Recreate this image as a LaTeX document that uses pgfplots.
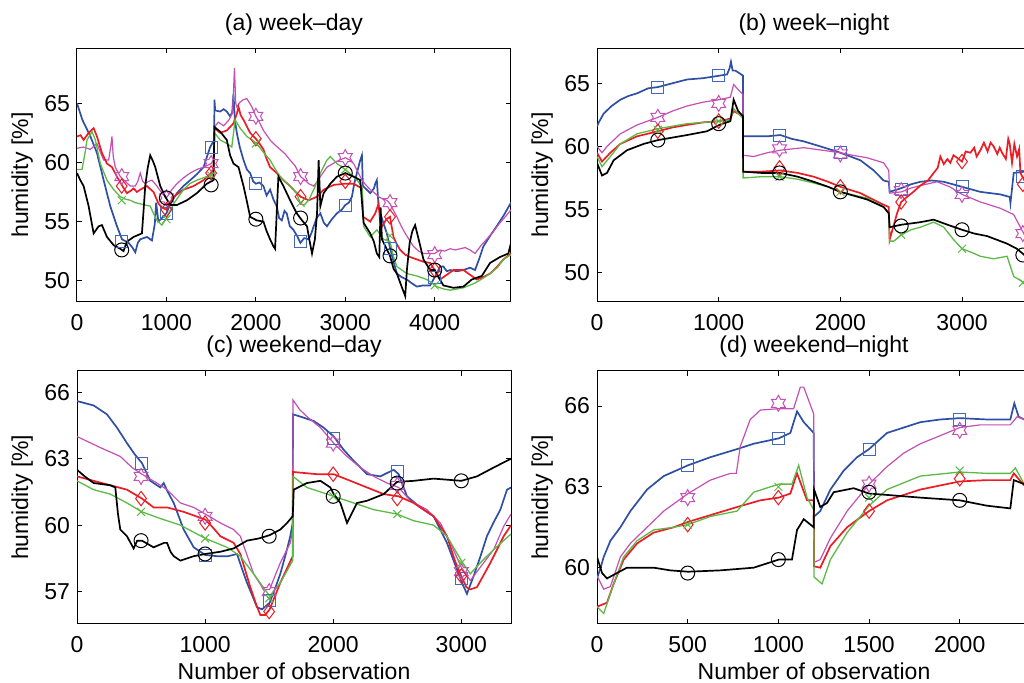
\documentclass[border=0pt]{standalone}
\usepackage{fontspec}
\setmainfont{Liberation Sans}
\usepackage{pgfplots}
\pgfplotsset{compat=1.18}

\definecolor{cB}{RGB}{46,79,163}
\definecolor{cBm}{RGB}{66,104,190}
\definecolor{cM}{RGB}{196,80,180}
\definecolor{cR}{RGB}{236,28,36}
\definecolor{cG}{RGB}{92,185,70}
\definecolor{cK}{RGB}{0,0,0}

\newcommand\lbl{\fontsize{11.5pt}{13pt}\selectfont}

% six-pointed star outline (MATLAB 'h')
\pgfdeclareplotmark{hexagram}{%
  \pgfpathmoveto{\pgfpointpolar{90}{\pgfplotmarksize}}%
  \pgfpathlineto{\pgfpointpolar{120}{0.577\pgfplotmarksize}}%
  \pgfpathlineto{\pgfpointpolar{150}{\pgfplotmarksize}}%
  \pgfpathlineto{\pgfpointpolar{180}{0.577\pgfplotmarksize}}%
  \pgfpathlineto{\pgfpointpolar{210}{\pgfplotmarksize}}%
  \pgfpathlineto{\pgfpointpolar{240}{0.577\pgfplotmarksize}}%
  \pgfpathlineto{\pgfpointpolar{270}{\pgfplotmarksize}}%
  \pgfpathlineto{\pgfpointpolar{300}{0.577\pgfplotmarksize}}%
  \pgfpathlineto{\pgfpointpolar{330}{\pgfplotmarksize}}%
  \pgfpathlineto{\pgfpointpolar{0}{0.577\pgfplotmarksize}}%
  \pgfpathlineto{\pgfpointpolar{30}{\pgfplotmarksize}}%
  \pgfpathlineto{\pgfpointpolar{60}{0.577\pgfplotmarksize}}%
  \pgfpathclose
  \pgfusepathqstroke
}

\pgfplotsset{
  panel/.style={
    scale only axis, width=217pt, anchor=south west,
    axis line style={line width=0.5pt},
    every tick/.style={black, line width=0.5pt}, major tick length=2.5pt,
    tick align=inside,
    tick label style={font=\lbl},
    /pgf/number format/assume math mode=true,
    /pgf/number format/1000 sep={},
    scaled ticks=false,
    xticklabel style={yshift=-2.5pt},
    ylabel={humidity [\%]},
    every axis y label/.style={at={(axis description cs:-0.1124,0.5)}, rotate=90, anchor=base, font=\lbl},
    every axis x label/.style={at={(axis description cs:0.5,0)}, anchor=base, yshift=-28pt, font=\lbl},
    every axis title/.style={at={(axis description cs:0.5,1)}, anchor=base, yshift=9pt, font=\lbl},
  },
  lB/.style={cB, line width=0.85pt},
  lM/.style={cM, line width=0.6pt},
  lR/.style={cR, line width=0.85pt},
  lG/.style={cG, line width=0.65pt},
  lK/.style={cK, line width=0.85pt},
  mB/.style={only marks, mark=square, mark size=3pt, mark options={draw=cBm, line width=0.5pt}},
  mM/.style={only marks, mark=hexagram, mark size=4pt, mark options={draw=cM, line width=0.5pt}},
  mR/.style={only marks, mark=diamond, mark size=3.6pt, mark options={draw=cR, line width=0.5pt}},
  mG/.style={only marks, mark=x, mark size=2.8pt, mark options={draw=cG, line width=0.5pt}},
  mK/.style={only marks, mark=o, mark size=3.5pt, mark options={draw=cK, line width=0.5pt}},
}

\begin{document}
\begin{tikzpicture}
\path[use as bounding box] (0,0) rectangle (512pt,341.5pt);
\clip (0,0) rectangle (512pt,341.5pt);

% ---------------- (a) week-day ----------------
\begin{axis}[panel, at={(38.5pt,190.5pt)}, height=126.85pt,
  xmin=0, xmax=4853, ymin=48.2, ymax=69.65,
  xtick={0,1000,2000,3000,4000}, ytick={50,55,60,65},
  title={(a) week–day}]
\addplot[lB] coordinates {(0,65.0)(60,63.6)(150,62.2)(223,60.8)(298,58.5)(372,56.3)(447,54.6)(503,53.5)(577,53.2)(620,52.8)(652,52.4)(680,53.2)(707,53.5)(782,53.7)(838,53.4)(870,54.8)(885,56.6)(910,55.0)(950,55.3)(1000,55.7)(1050,56.6)(1117,57.4)(1190,58.0)(1266,58.5)(1340,59.0)(1415,59.6)(1489,61.3)(1534,61.9)(1537,65.3)(1545,64.4)(1600,64.3)(1640,64.5)(1675,64.3)(1712,63.9)(1735,64.2)(1750,65.8)(1765,63.6)(1787,62.5)(1820,61.3)(1862,60.2)(1900,59.4)(1936,59.1)(1970,58.4)(2000,58.2)(2040,58.3)(2085,58.0)(2120,57.2)(2159,57.7)(2200,56.8)(2234,56.3)(2260,55.3)(2290,55.1)(2320,55.9)(2345,55.7)(2380,54.6)(2420,54.3)(2460,53.8)(2498,53.2)(2540,53.6)(2591,53.5)(2620,54.0)(2647,54.6)(2680,55.3)(2721,55.7)(2760,54.9)(2795,54.6)(2850,55.2)(2907,55.7)(2960,56.0)(3000,56.4)(3040,56.6)(3074,57.1)(3100,58.2)(3130,59.1)(3160,60.0)(3186,60.6)(3197,58.0)(3240,57.7)(3279,57.4)(3320,57.8)(3335,58.2)(3353,58.5)(3372,56.3)(3420,55.0)(3465,54.0)(3500,52.8)(3540,51.6)(3577,50.6)(3630,50.3)(3688,50.1)(3740,49.8)(3800,49.5)(3870,49.6)(3949,49.6)(4000,50.3)(4023,50.6)(4060,51.2)(4097,51.2)(4135,50.8)(4172,50.9)(4250,50.8)(4321,50.9)(4395,51.1)(4451,50.9)(4500,51.9)(4544,52.9)(4620,53.8)(4693,54.6)(4770,55.5)(4853,56.6)};
\addplot[lM] coordinates {(0,61.2)(74,61.3)(149,61.1)(223,61.6)(260,60.9)(298,60.2)(354,60.2)(380,61.5)(391,62.2)(405,60.5)(428,59.6)(484,58.8)(540,58.4)(596,58.0)(652,58.0)(680,58.4)(707,59.1)(735,58.4)(763,58.2)(800,58.4)(838,58.5)(894,58.0)(950,57.4)(1000,57.0)(1060,57.7)(1117,58.2)(1190,58.7)(1266,59.1)(1340,59.4)(1415,59.6)(1500,59.9)(1526,60.2)(1537,63.0)(1580,63.4)(1640,63.1)(1700,63.6)(1740,64.2)(1761,68.0)(1775,65.0)(1787,64.7)(1824,65.1)(1860,65.3)(1899,65.4)(1955,64.7)(2000,63.9)(2040,63.4)(2085,62.7)(2159,61.9)(2210,61.5)(2271,61.1)(2330,60.7)(2383,60.2)(2440,59.7)(2500,58.8)(2550,58.5)(2591,58.2)(2647,58.0)(2690,58.4)(2721,58.8)(2795,59.6)(2907,60.1)(3000,60.4)(3050,60.2)(3093,59.9)(3140,59.2)(3186,58.5)(3230,58.1)(3279,57.7)(3330,57.4)(3372,57.1)(3420,56.9)(3465,56.8)(3500,56.5)(3577,55.4)(3620,54.7)(3670,54.0)(3720,53.4)(3763,52.9)(3820,52.5)(3874,52.3)(3950,52.3)(4000,52.3)(4060,52.6)(4110,52.5)(4172,52.7)(4230,52.6)(4284,52.7)(4340,52.8)(4395,52.6)(4451,52.3)(4520,53.0)(4581,53.5)(4660,54.2)(4730,54.9)(4800,55.5)(4853,56.0)};
\addplot[lR] coordinates {(0,62.2)(40,62.3)(74,61.9)(130,62.5)(186,62.9)(223,62.2)(279,60.8)(335,59.9)(391,59.6)(447,58.8)(500,58.1)(558,57.4)(600,57.6)(633,57.8)(670,57.5)(707,57.7)(782,58.0)(856,57.5)(912,56.5)(950,56.2)(1000,56.0)(1040,56.6)(1080,57.1)(1191,57.7)(1303,58.0)(1415,58.5)(1500,59.1)(1526,59.4)(1537,62.9)(1601,62.5)(1675,62.7)(1750,63.3)(1790,64.2)(1806,64.7)(1830,64.0)(1862,63.6)(1936,62.5)(2000,62.0)(2040,61.6)(2085,61.1)(2120,60.3)(2159,59.6)(2234,59.1)(2308,58.5)(2383,58.0)(2457,57.4)(2500,57.1)(2591,56.8)(2684,57.1)(2758,57.7)(2870,58.1)(3000,58.2)(3093,58.2)(3186,57.8)(3200,55.4)(3279,55.0)(3335,55.7)(3372,56.5)(3390,55.0)(3410,54.6)(3460,55.2)(3500,55.4)(3539,53.7)(3575,53.1)(3614,52.6)(3670,52.2)(3725,52.0)(3800,51.8)(3874,51.6)(3949,51.5)(4000,50.9)(4060,50.1)(4135,50.5)(4209,50.9)(4321,50.9)(4414,50.4)(4470,50.1)(4540,50.3)(4619,50.6)(4700,51.2)(4768,51.8)(4853,52.3)};
\addplot[lG] coordinates {(0,59.4)(56,59.4)(90,60.8)(112,61.9)(168,62.6)(205,61.9)(261,59.9)(335,58.5)(410,57.7)(484,57.1)(540,56.9)(596,56.8)(650,56.6)(707,56.5)(760,56.4)(819,56.3)(860,55.6)(894,55.1)(950,54.7)(1000,55.3)(1040,55.9)(1080,56.5)(1191,57.7)(1260,58.2)(1340,58.5)(1452,58.8)(1526,59.1)(1537,62.5)(1601,61.9)(1675,61.6)(1731,61.3)(1768,63.6)(1824,62.9)(1899,62.2)(2010,61.6)(2080,60.9)(2159,60.2)(2220,59.4)(2271,58.8)(2383,58.0)(2457,57.4)(2498,56.5)(2540,56.4)(2591,56.8)(2665,58.0)(2721,59.1)(2795,60.2)(2833,60.5)(2907,59.9)(3000,59.4)(3093,58.8)(3186,58.0)(3205,54.6)(3279,53.7)(3353,54.3)(3428,53.5)(3500,53.3)(3540,52.0)(3577,51.2)(3688,50.6)(3800,50.4)(3911,50.1)(4023,49.5)(4100,49.3)(4172,49.2)(4250,49.3)(4321,49.4)(4451,49.8)(4540,50.2)(4619,50.6)(4700,51.1)(4768,51.8)(4853,52.2)};
\addplot[lK] coordinates {(0,59.1)(37,58.5)(74,58.0)(130,56.3)(186,54.0)(242,54.6)(279,54.7)(335,53.7)(410,53.0)(484,52.7)(520,52.5)(558,53.3)(633,53.7)(726,54.0)(745,56.0)(763,58.0)(790,59.5)(819,60.6)(850,60.1)(875,59.6)(931,58.0)(987,57.1)(1042,56.4)(1117,56.4)(1229,56.8)(1340,57.4)(1452,58.2)(1526,58.5)(1537,63.0)(1601,62.6)(1675,61.9)(1712,60.6)(1750,59.9)(1806,59.6)(1862,58.0)(1900,56.7)(1936,55.4)(2010,55.1)(2085,55.0)(2120,54.2)(2159,53.5)(2197,52.9)(2215,52.7)(2252,58.8)(2308,58.0)(2383,56.8)(2457,55.7)(2516,55.1)(2572,54.6)(2600,53.4)(2628,52.3)(2660,53.5)(2684,55.7)(2702,60.2)(2721,56.3)(2758,57.4)(2833,58.2)(2907,58.8)(3000,59.1)(3093,58.8)(3167,58.5)(3205,54.9)(3279,54.0)(3320,53.3)(3353,52.3)(3380,52.0)(3395,56.2)(3410,53.5)(3500,52.1)(3540,51.0)(3577,50.6)(3630,49.5)(3670,48.7)(3690,51.0)(3720,53.2)(3750,54.2)(3781,54.7)(3830,53.2)(3874,51.8)(3949,50.9)(4000,50.9)(4050,50.2)(4097,49.6)(4209,49.4)(4321,49.5)(4414,50.1)(4526,50.4)(4619,51.5)(4730,52.0)(4823,52.3)(4853,53.2)};
\addplot[mB] coordinates {(500,53.3)(1000,55.7)(1500,61.3)(2000,58.2)(2500,53.3)(3000,56.4)(3500,52.7)(4000,50.3)};
\addplot[mM] coordinates {(500,58.8)(1000,57.0)(1500,59.9)(2000,63.9)(2500,58.8)(3000,60.4)(3500,56.6)(4000,52.2)};
\addplot[mR] coordinates {(500,58.0)(1000,56.0)(1500,59.1)(2000,62.0)(2500,57.1)(3000,58.4)(3500,55.4)(4000,50.9)};
\addplot[mG] coordinates {(500,56.8)(1000,55.2)(1500,58.9)(2000,61.6)(2500,56.6)(3000,59.4)(3500,53.8)(4000,49.6)};
\addplot[mK] coordinates {(500,52.6)(1000,57.0)(1500,58.1)(2000,55.2)(2500,55.3)(3000,59.1)(3500,52.1)(4000,50.9)};
\end{axis}

% ---------------- (b) week-night ----------------
\begin{axis}[panel, at={(298.5pt,190.5pt)}, height=126.85pt,
  xmin=0, xmax=3567, ymin=47.68, ymax=67.77,
  xtick={0,1000,2000,3000}, ytick={50,55,60,65},
  title={(b) week–night}]
\addplot[lB] coordinates {(0,61.6)(20,62.0)(55,62.6)(120,63.2)(192,63.7)(260,64.0)(329,64.2)(420,64.6)(501,64.7)(620,65.0)(740,65.3)(870,65.4)(1005,65.6)(1069,65.7)(1090,66.2)(1101,66.7)(1115,66.0)(1137,66.0)(1170,65.8)(1200,65.6)(1201,60.8)(1288,60.8)(1400,60.8)(1507,60.9)(1600,60.6)(1699,60.4)(1836,60.0)(2000,59.5)(2165,58.9)(2274,58.1)(2356,57.3)(2398,57.2)(2405,56.4)(2502,56.7)(2580,57.0)(2658,57.2)(2750,57.3)(2850,57.2)(3000,56.8)(3151,56.4)(3315,56.2)(3392,56.0)(3398,55.5)(3425,57.9)(3513,58.0)(3567,58.0)};
\addplot[lM] coordinates {(0,60.0)(41,59.5)(82,60.0)(192,61.0)(329,61.7)(501,62.3)(620,62.8)(740,63.2)(870,63.5)(1005,63.7)(1096,63.9)(1123,64.9)(1160,64.5)(1200,64.1)(1201,59.3)(1288,59.2)(1400,59.5)(1507,59.7)(1600,59.8)(1699,59.9)(1850,59.7)(2000,59.5)(2100,59.3)(2219,59.1)(2356,58.7)(2398,58.1)(2405,56.3)(2502,56.4)(2580,56.7)(2658,56.9)(2795,57.2)(2900,56.8)(3000,56.2)(3151,55.6)(3315,55.1)(3425,54.6)(3513,53.0)(3567,52.8)};
\addplot[lR] coordinates {(0,59.5)(41,58.8)(110,59.5)(192,60.2)(329,60.8)(501,61.2)(620,61.5)(740,61.7)(870,61.9)(1005,62.0)(1096,62.2)(1123,62.8)(1160,62.6)(1200,62.4)(1201,58.0)(1350,58.0)(1507,58.1)(1650,57.9)(1781,57.6)(1900,57.2)(2000,56.8)(2165,56.3)(2329,55.5)(2398,55.2)(2405,52.6)(2440,53.8)(2466,54.7)(2500,55.6)(2548,56.0)(2600,56.4)(2658,56.9)(2720,57.3)(2767,57.9)(2800,58.3)(2822,59.2)(2850,58.6)(2880,59.0)(2904,58.7)(2930,59.3)(2959,59.1)(3000,58.8)(3030,59.6)(3069,59.5)(3100,59.9)(3120,59.2)(3151,59.7)(3180,60.3)(3210,59.6)(3235,60.3)(3260,60.0)(3290,59.4)(3310,59.9)(3329,59.5)(3360,59.0)(3380,60.6)(3392,60.2)(3411,58.7)(3430,60.2)(3452,59.2)(3470,59.8)(3480,57.9)(3513,57.3)(3567,57.0)};
\addplot[lG] coordinates {(0,59.2)(41,58.4)(110,59.2)(192,60.2)(329,61.0)(501,61.4)(620,61.6)(740,61.8)(870,61.9)(1005,62.0)(1096,62.1)(1123,63.0)(1160,62.6)(1200,62.2)(1201,57.5)(1350,57.6)(1507,57.6)(1650,57.4)(1781,57.1)(1900,56.8)(2000,56.4)(2219,55.9)(2356,55.2)(2398,54.7)(2405,52.5)(2440,52.5)(2502,53.0)(2580,53.4)(2658,53.6)(2767,54.0)(2850,53.6)(2932,52.6)(3000,51.9)(3080,51.6)(3151,51.3)(3260,51.1)(3370,51.3)(3425,49.7)(3513,49.2)(3567,49.0)};
\addplot[lK] coordinates {(0,58.7)(41,57.7)(82,57.9)(137,58.9)(247,59.7)(384,60.2)(501,60.5)(620,60.7)(740,60.9)(904,61.2)(1005,61.7)(1096,62.0)(1123,63.7)(1160,62.8)(1200,62.4)(1201,58.0)(1350,57.9)(1507,57.9)(1650,57.6)(1781,57.2)(1900,56.8)(2000,56.4)(2219,55.8)(2356,55.2)(2398,54.7)(2405,53.6)(2502,53.8)(2580,53.9)(2658,54.0)(2767,54.2)(2880,53.8)(3000,53.4)(3100,53.1)(3206,52.9)(3370,52.3)(3450,51.9)(3513,51.4)(3567,51.2)};
\addplot[mB] coordinates {(500,64.7)(1000,65.6)(1500,60.9)(2000,59.5)(2500,56.6)(3000,56.8)(3500,57.6)};
\addplot[mM] coordinates {(500,62.3)(1000,63.4)(1500,59.8)(2000,59.4)(2500,56.5)(3000,56.2)(3500,53.1)};
\addplot[mR] coordinates {(500,61.2)(1000,62.0)(1500,58.3)(2000,56.8)(2500,55.6)(3000,58.8)(3500,57.0)};
\addplot[mG] coordinates {(500,61.3)(1000,62.0)(1500,57.6)(2000,56.4)(2500,53.0)(3000,51.9)(3500,49.2)};
\addplot[mK] coordinates {(500,60.5)(1000,61.8)(1500,57.9)(2000,56.4)(2500,53.7)(3000,53.4)(3500,51.4)};
\end{axis}

% ---------------- (c) weekend-day ----------------
\begin{axis}[panel, at={(38.5pt,29.5pt)}, height=126.65pt,
  xmin=0, xmax=3388, ymin=55.54, ymax=66.97,
  xtick={0,1000,2000,3000}, ytick={57,60,63,66},
  xlabel={Number of observation},
  title={(c) weekend–day}]
\addplot[lB] coordinates {(0,65.6)(130,65.4)(234,65.0)(312,64.4)(390,63.7)(450,63.2)(507,62.8)(572,62.0)(650,61.7)(677,61.9)(700,61.6)(755,61.0)(833,59.8)(911,59.0)(1002,58.65)(1093,58.6)(1180,58.6)(1249,58.7)(1290,58.0)(1327,57.4)(1370,56.8)(1405,56.3)(1444,56.2)(1504,56.5)(1550,57.2)(1587,57.8)(1630,58.7)(1665,59.5)(1684,60.1)(1686,65.0)(1743,64.9)(1847,64.7)(1925,64.4)(2004,64.0)(2082,63.4)(2160,62.9)(2264,62.3)(2368,62.2)(2472,62.5)(2511,62.3)(2576,61.3)(2680,60.8)(2784,60.4)(2888,59.2)(2966,58.0)(3005,57.4)(3044,56.9)(3096,57.7)(3150,58.6)(3200,59.5)(3250,60.1)(3305,60.7)(3357,61.6)(3388,61.7)};
\addplot[lM] coordinates {(0,64.0)(182,63.5)(338,63.1)(430,62.6)(507,62.3)(624,61.9)(703,61.6)(807,61.0)(911,60.8)(1002,60.5)(1119,60.1)(1223,59.8)(1275,59.5)(1330,58.6)(1379,57.8)(1457,57.1)(1504,57.1)(1545,57.7)(1587,58.3)(1665,59.2)(1684,59.8)(1686,65.65)(1740,65.2)(1795,64.9)(1900,64.4)(2004,63.7)(2108,63.1)(2212,62.6)(2316,62.2)(2420,61.9)(2511,61.7)(2602,61.1)(2732,60.7)(2836,60.1)(2914,59.2)(3000,58.1)(3070,57.5)(3148,58.1)(3253,58.9)(3331,59.95)(3388,60.5)};
\addplot[lR] coordinates {(0,62.2)(130,62.0)(260,61.8)(390,61.6)(507,61.2)(598,60.8)(703,60.8)(833,60.6)(1002,60.25)(1060,59.9)(1119,59.5)(1223,59.2)(1275,58.7)(1353,57.2)(1400,56.4)(1431,55.95)(1470,55.95)(1504,56.2)(1587,57.4)(1684,58.6)(1686,62.4)(1873,62.3)(2004,62.3)(2134,62.0)(2264,61.7)(2394,61.4)(2511,61.3)(2628,61.0)(2784,60.4)(2888,59.5)(2950,58.4)(3000,57.7)(3040,57.2)(3070,57.1)(3122,57.2)(3227,58.3)(3331,59.5)(3388,60.0)};
\addplot[lG] coordinates {(0,62.0)(130,61.6)(260,61.4)(390,61.0)(507,60.6)(650,60.3)(807,60.0)(1002,59.4)(1171,59.0)(1275,58.6)(1379,57.8)(1504,56.8)(1587,57.4)(1684,58.4)(1686,62.2)(1795,61.7)(2004,61.3)(2160,61.0)(2316,60.7)(2498,60.5)(2628,60.2)(2784,60.0)(2888,59.5)(3000,58.4)(3070,57.8)(3148,58.3)(3253,58.9)(3388,59.6)};
\addplot[lK] coordinates {(0,62.5)(60,62.2)(130,61.9)(260,61.8)(299,61.7)(320,60.5)(338,59.8)(390,59.5)(442,58.95)(470,59.3)(507,59.3)(598,59.0)(680,59.2)(703,59.2)(730,58.8)(755,58.6)(807,58.4)(911,58.6)(1002,58.7)(1119,58.8)(1223,58.95)(1327,59.3)(1420,59.4)(1504,59.55)(1587,59.8)(1640,60.1)(1684,60.4)(1692,61.6)(1795,61.9)(1900,62.0)(1978,61.7)(2004,61.4)(2056,61.0)(2108,60.1)(2186,61.0)(2264,61.1)(2394,61.4)(2498,61.95)(2628,62.0)(2784,62.1)(3000,62.0)(3122,62.2)(3253,62.6)(3388,63.0)};
\addplot[mB] coordinates {(500,62.8)(1000,58.65)(1500,56.6)(2000,63.9)(2500,62.4)(3000,57.6)};
\addplot[mM] coordinates {(500,62.2)(1000,60.4)(1500,57.0)(2000,63.7)(2500,61.8)(3000,57.9)};
\addplot[mR] coordinates {(500,61.2)(1000,60.1)(1500,56.1)(2000,62.3)(2500,61.2)(3000,57.7)};
\addplot[mG] coordinates {(500,60.6)(1000,59.4)(1500,56.7)(2000,61.3)(2500,60.5)(3000,58.3)};
\addplot[mK] coordinates {(500,59.3)(1000,58.7)(1500,59.5)(2000,61.3)(2500,61.9)(3000,62.0)};
\end{axis}

% ---------------- (d) weekend-night ----------------
\begin{axis}[panel, at={(298.5pt,29.5pt)}, height=126.65pt,
  xmin=0, xmax=2393, ymin=57.91, ymax=67.31,
  xtick={0,500,1000,1500,2000}, ytick={60,63,66},
  xlabel={Number of observation},
  title={(d) weekend–night}]
\addplot[lB] coordinates {(0,59.6)(20,60.0)(37,60.4)(74,61.0)(129,61.5)(184,62.1)(276,62.9)(368,63.4)(502,63.8)(625,64.1)(772,64.4)(864,64.6)(1002,64.8)(1066,65.0)(1103,65.8)(1140,65.4)(1195,65.0)(1197,61.9)(1231,62.1)(1287,62.9)(1360,63.6)(1434,64.1)(1500,64.4)(1599,65.0)(1691,65.2)(1783,65.4)(1893,65.5)(2000,65.55)(2150,65.5)(2279,65.5)(2301,66.1)(2325,65.6)(2356,65.5)(2393,65.45)};
\addplot[lM] coordinates {(0,59.7)(37,59.2)(74,59.3)(129,60.4)(184,60.9)(276,61.5)(368,62.1)(502,62.75)(625,63.25)(735,63.5)(768,63.5)(790,64.5)(845,65.5)(901,65.85)(1002,65.9)(1084,65.9)(1121,66.7)(1140,66.7)(1195,65.7)(1197,60.2)(1231,60.3)(1287,61.1)(1379,62.1)(1500,63.1)(1599,63.75)(1691,64.25)(1783,64.6)(1893,64.9)(2000,65.2)(2114,65.3)(2279,65.3)(2316,65.6)(2356,65.5)(2393,65.4)};
\addplot[lR] coordinates {(0,58.55)(55,58.7)(92,59.4)(147,60.3)(221,60.9)(312,61.3)(423,61.5)(502,61.7)(625,61.95)(772,62.25)(901,62.5)(1002,62.6)(1066,62.75)(1103,63.5)(1158,62.5)(1195,62.5)(1197,60.05)(1231,60.0)(1287,60.8)(1379,61.5)(1500,62.1)(1599,62.5)(1783,62.9)(2000,63.2)(2150,63.25)(2279,63.25)(2298,63.5)(2356,63.05)(2393,62.9)};
\addplot[lG] coordinates {(0,58.55)(37,58.3)(92,59.4)(147,60.4)(221,61.0)(312,61.4)(423,61.5)(502,61.6)(625,61.9)(772,62.1)(864,62.8)(1002,63.1)(1075,63.1)(1112,63.8)(1158,62.6)(1195,62.15)(1197,59.65)(1241,59.4)(1287,60.3)(1379,61.3)(1500,62.3)(1599,62.9)(1783,63.4)(2000,63.55)(2150,63.5)(2279,63.5)(2307,63.7)(2356,63.1)(2393,63.0)};
\addplot[lK] coordinates {(0,60.4)(28,59.8)(55,59.6)(110,59.8)(165,60.0)(312,60.0)(404,59.9)(502,59.85)(680,59.9)(864,60.0)(1002,60.3)(1075,60.3)(1103,61.4)(1140,61.8)(1195,61.5)(1197,62.9)(1231,62.25)(1268,62.4)(1305,62.8)(1415,62.95)(1500,62.75)(1599,62.7)(1783,62.6)(2000,62.5)(2150,62.3)(2279,62.2)(2298,63.25)(2356,63.1)(2393,63.0)};
\addplot[mB] coordinates {(500,63.8)(1000,64.8)(1500,64.4)(2000,65.5)};
\addplot[mM] coordinates {(500,62.6)(1000,66.1)(1500,63.1)(2000,65.1)};
\addplot[mR] coordinates {(500,61.6)(1000,62.6)(1500,62.1)(2000,63.3)};
\addplot[mG] coordinates {(500,61.6)(1000,63.0)(1500,62.6)(2000,63.6)};
\addplot[mK] coordinates {(500,59.8)(1000,60.3)(1500,62.8)(2000,62.5)};
\end{axis}
\end{tikzpicture}
\end{document}
